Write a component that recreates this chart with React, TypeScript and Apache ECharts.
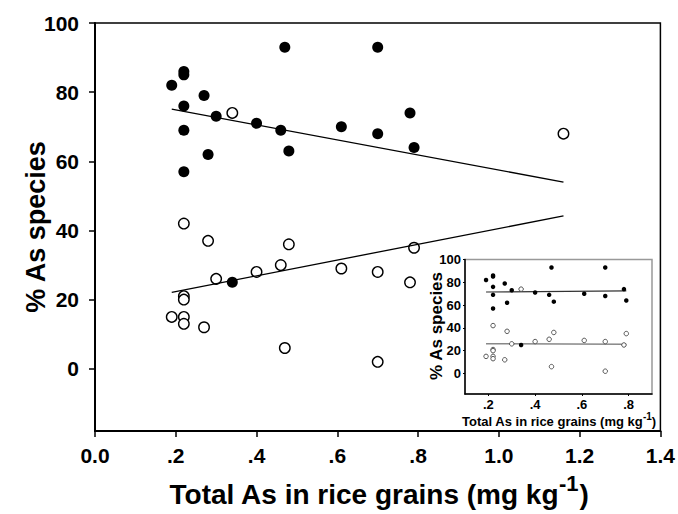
import React, { useEffect, useRef } from "react";
import * as echarts from "echarts";

// Filled circles: [Total As (mg/kg), % As species]
const filledPoints: number[][] = [
  [0.19, 82], [0.22, 86], [0.22, 85], [0.22, 76], [0.22, 69], [0.22, 57],
  [0.27, 79], [0.28, 62], [0.30, 73], [0.34, 25], [0.40, 71], [0.46, 69],
  [0.47, 93], [0.48, 63], [0.61, 70], [0.70, 93], [0.70, 68], [0.78, 74],
  [0.79, 64],
];
// Open circles
const openPoints: number[][] = [
  [0.19, 15], [0.22, 42], [0.22, 21], [0.22, 20], [0.22, 15], [0.22, 13],
  [0.27, 12], [0.28, 37], [0.30, 26], [0.34, 74], [0.40, 28], [0.46, 30],
  [0.47, 6], [0.48, 36], [0.61, 29], [0.70, 28], [0.70, 2], [0.78, 25],
  [0.79, 35], [1.16, 68],
];
// Regression line end points (main chart)
const mainTrendUpper: number[][] = [[0.19, 75.1], [1.16, 54]];
const mainTrendLower: number[][] = [[0.19, 22.1], [1.16, 44.2]];
// Regression line end points (inset)
const insetTrendUpper: number[][] = [[0.19, 71.5], [0.79, 72.5]];
const insetTrendLower: number[][] = [[0.19, 26.1], [0.79, 25.6]];

const yTicks = [0, 20, 40, 60, 80, 100];
const mainXTicks = [0, 0.2, 0.4, 0.6, 0.8, 1.0, 1.2, 1.4];
const insetXTicks = [0.2, 0.4, 0.6, 0.8];

const FONT = "'Liberation Sans', Arial, Helvetica, sans-serif";

const fmtX = (v: number) => {
  const r = Math.round(v * 10) / 10;
  if (r === 0) return "0.0";
  if (r < 1) return "." + Math.round(r * 10);
  return r.toFixed(1);
};

export default function App() {
  const ref = useRef<HTMLDivElement>(null);
  useEffect(() => {
    if (!ref.current) return;
    const chart = echarts.init(ref.current, undefined, { renderer: "svg" });
    const insetMaxX = 0.9;
    chart.setOption({
      animation: false,
      backgroundColor: "#fff",
      grid: [
        {
          left: 95, top: 23, width: 568, height: 408,
          show: true, borderColor: "#000", borderWidth: 1.5, backgroundColor: "transparent",
        },
        {
          left: 465, top: 259.5, width: 187, height: 134.5,
          show: true, borderColor: "#999", borderWidth: 1.5, backgroundColor: "#fff", z: 5,
        },
      ],
      xAxis: [
        {
          type: "value", gridIndex: 0, min: 0, max: 1.4, interval: 0.2,
          axisLine: { show: true, onZero: false, lineStyle: { color: "#000", width: 2 } },
          axisTick: { show: true, length: 6, lineStyle: { color: "#000", width: 1.5 }, customValues: mainXTicks },
          axisLabel: {
            customValues: mainXTicks, formatter: fmtX, margin: 14,
            fontFamily: FONT, fontWeight: "bold", fontSize: 21, color: "#000",
          },
          splitLine: { show: false },
        },
        {
          type: "value", gridIndex: 1, min: 0.1, max: insetMaxX,
          axisLine: { show: true, onZero: false, lineStyle: { color: "#000", width: 1.5 } },
          axisTick: { show: true, length: 2, lineStyle: { color: "#000", width: 1 }, customValues: insetXTicks },
          axisLabel: {
            customValues: insetXTicks, formatter: fmtX, margin: 4,
            fontFamily: FONT, fontWeight: "bold", fontSize: 13, color: "#000",
          },
          splitLine: { show: false },
          z: 6,
        },
      ],
      yAxis: [
        {
          type: "value", gridIndex: 0, min: -18, max: 100,
          axisLine: { show: true, onZero: false, lineStyle: { color: "#000", width: 2 } },
          axisTick: { show: true, length: 6, lineStyle: { color: "#000", width: 1.5 }, customValues: yTicks },
          axisLabel: {
            customValues: yTicks, margin: 16,
            fontFamily: FONT, fontWeight: "bold", fontSize: 21, color: "#000",
          },
          splitLine: { show: false },
        },
        {
          type: "value", gridIndex: 1, min: -18, max: 100,
          axisLine: { show: true, onZero: false, lineStyle: { color: "#000", width: 1.5 } },
          axisTick: { show: true, length: 2, lineStyle: { color: "#000", width: 1 }, customValues: yTicks },
          axisLabel: {
            customValues: yTicks, margin: 4,
            fontFamily: FONT, fontWeight: "bold", fontSize: 13, color: "#000",
          },
          splitLine: { show: false },
          z: 6,
        },
      ],
      series: [
        {
          type: "line", xAxisIndex: 0, yAxisIndex: 0, data: mainTrendUpper,
          showSymbol: false, lineStyle: { color: "#000", width: 1.3 }, silent: true,
        },
        {
          type: "line", xAxisIndex: 0, yAxisIndex: 0, data: mainTrendLower,
          showSymbol: false, lineStyle: { color: "#000", width: 1.3 }, silent: true,
        },
        {
          type: "scatter", xAxisIndex: 0, yAxisIndex: 0, data: filledPoints,
          symbol: "circle", symbolSize: 11, itemStyle: { color: "#000", opacity: 1 },
        },
        {
          type: "scatter", xAxisIndex: 0, yAxisIndex: 0, data: openPoints,
          symbol: "circle", symbolSize: 10.5,
          itemStyle: { color: "#fff", borderColor: "#000", borderWidth: 1.4, opacity: 1 },
        },
        {
          type: "line", xAxisIndex: 1, yAxisIndex: 1, data: insetTrendUpper, z: 7,
          showSymbol: false, lineStyle: { color: "#333", width: 1.2 }, silent: true,
        },
        {
          type: "line", xAxisIndex: 1, yAxisIndex: 1, data: insetTrendLower, z: 7,
          showSymbol: false, lineStyle: { color: "#888", width: 1.5 }, silent: true,
        },
        {
          type: "scatter", xAxisIndex: 1, yAxisIndex: 1, z: 8,
          data: filledPoints.filter((p) => p[0] <= insetMaxX),
          symbol: "circle", symbolSize: 4.5, itemStyle: { color: "#000", opacity: 1 },
        },
        {
          type: "scatter", xAxisIndex: 1, yAxisIndex: 1, z: 8,
          data: openPoints.filter((p) => p[0] <= insetMaxX),
          symbol: "circle", symbolSize: 4.5,
          itemStyle: { color: "#fff", borderColor: "#444", borderWidth: 0.9, opacity: 1 },
        },
      ],
      graphic: [
        {
          type: "text", x: 36, y: 227, rotation: Math.PI / 2,
          style: {
            text: "% As species", fontFamily: FONT, fontWeight: "bold", fontSize: 27,
            fill: "#000", align: "center", verticalAlign: "middle",
          },
        },
        {
          type: "text", x: 379, y: 494,
          style: {
            text: "Total As in rice grains (mg kg{sup|-1})",
            fontFamily: FONT, fontWeight: "bold", fontSize: 28, fill: "#000",
            align: "center", verticalAlign: "middle",
            rich: {
              sup: {
                fontFamily: FONT, fontWeight: "bold", fontSize: 22, fill: "#000",
                padding: [0, 1, 22, 0],
              },
            },
          },
        },
        {
          type: "text", x: 436, y: 326, rotation: Math.PI / 2, z: 10,
          style: {
            text: "% As species", fontFamily: FONT, fontWeight: "bold", fontSize: 17,
            fill: "#000", align: "center", verticalAlign: "middle",
          },
        },
        {
          type: "text", x: 559, y: 421, z: 10,
          style: {
            text: "Total As in rice grains (mg kg{sup|-1})",
            fontFamily: FONT, fontWeight: "bold", fontSize: 13, fill: "#000",
            align: "center", verticalAlign: "middle",
            rich: {
              sup: {
                fontFamily: FONT, fontWeight: "bold", fontSize: 10, fill: "#000",
                padding: [0, 0, 9, 0],
              },
            },
          },
        },
      ],
    });
    return () => chart.dispose();
  }, []);
  return (
    <div
      ref={ref}
      style={{ position: "fixed", left: 0, top: 0, width: 678, height: 514, background: "#fff" }}
    />
  );
}
